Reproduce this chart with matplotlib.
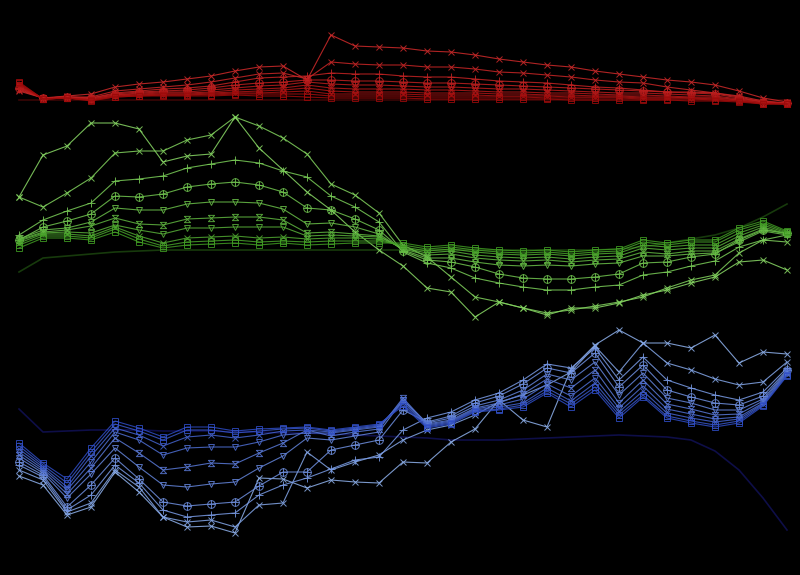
import numpy as np
import matplotlib
matplotlib.use("Agg")
import matplotlib.pyplot as plt
from matplotlib.path import Path
from matplotlib.colors import to_rgb

# x positions: 33 samples
steps = np.arange(33)

# ---- red group (values on an inverted vertical scale) ----
red_base = [100] * 33
red_series = [
    [91, 98, 96, 94, 87, 84, 82, 79, 76, 71, 67, 66, 80,
     35, 46, 47, 48, 51, 52, 55, 59, 62, 65, 67, 71, 74, 77, 80, 82, 85, 91, 98, 102],
    [90, 98, 97, 97, 91, 89, 87, 85, 82, 78, 74, 73, 79,
     62, 64, 65, 65, 67, 67, 69, 72, 73, 75, 77, 80, 82, 83, 87, 90, 93, 96, 101, 103],
    [89, 98, 97, 98, 93, 91, 89, 88, 86, 82, 78, 77, 76,
     73, 74, 74, 76, 77, 77, 79, 81, 82, 83, 85, 87, 88, 90, 92, 92, 93, 97, 102, 103],
    [88, 98, 97, 98, 94, 92, 91, 90, 88, 85, 83, 82, 80,
     80, 81, 81, 82, 83, 83, 84, 85, 86, 87, 88, 89, 90, 91, 92, 93, 94, 98, 102, 103],
    [87, 98, 97, 99, 95, 93, 92, 92, 90, 88, 86, 85, 82,
     84, 85, 85, 86, 87, 87, 88, 89, 89, 90, 91, 92, 93, 93, 94, 95, 96, 99, 102, 103],
    [86, 99, 98, 99, 95, 94, 93, 93, 92, 90, 89, 88, 85,
     88, 89, 89, 89, 90, 90, 91, 92, 92, 93, 93, 94, 95, 95, 96, 97, 97, 100, 103, 103],
    [85, 99, 98, 100, 96, 95, 94, 94, 93, 92, 91, 90, 88,
     91, 92, 92, 92, 93, 93, 93, 94, 94, 95, 95, 96, 96, 97, 97, 98, 98, 100, 103, 104],
    [84, 99, 98, 100, 96, 95, 95, 95, 94, 93, 93, 92, 91,
     94, 94, 94, 94, 95, 95, 95, 96, 96, 96, 97, 97, 97, 98, 98, 98, 99, 101, 103, 104],
    [83, 99, 98, 100, 97, 96, 95, 95, 95, 94, 94, 94, 94,
     96, 96, 96, 96, 97, 97, 97, 97, 97, 98, 98, 98, 98, 99, 99, 99, 100, 101, 104, 104],
    [82, 99, 98, 101, 97, 96, 96, 96, 96, 95, 96, 96, 97,
     98, 98, 98, 98, 99, 99, 99, 99, 99, 99, 100, 100, 100, 100, 100, 101, 101, 102, 104, 104],
]

# ---- green group ----
green_base = [272, 258, 256, 254, 252, 251, 250, 250, 250, 250, 250, 250, 250, 250, 250, 250,
              250, 250, 250, 250, 250, 250, 250, 250, 250, 249, 247, 243, 239, 235, 228, 217, 204]
green_series = [
    [197, 155, 146, 123, 123, 129, 162, 156, 154, 117, 148, 170, 192, 210, 232, 250,
     266, 288, 292, 317, 302, 308, 315, 308, 308, 303, 295, 290, 283, 277, 262, 260, 270],
    [197, 207, 193, 178, 153, 151, 151, 140, 135, 117, 126, 138, 154, 184, 195, 213,
     245, 257, 277, 297, 302, 308, 313, 310, 306, 302, 297, 288, 280, 275, 253, 240, 242],
    [235, 220, 211, 203, 181, 179, 176, 168, 164, 160, 163, 171, 177, 196, 207, 222,
     252, 263, 268, 278, 283, 287, 290, 290, 287, 285, 275, 272, 266, 261, 247, 240, 235],
    [240, 227, 221, 214, 196, 197, 194, 187, 184, 182, 185, 192, 208, 210, 219, 230,
     251, 260, 262, 267, 274, 278, 279, 279, 277, 274, 263, 262, 257, 254, 240, 230, 233],
    [239, 230, 228, 222, 208, 210, 210, 204, 202, 202, 203, 209, 224, 223, 227, 234,
     250, 258, 258, 262, 265, 266, 265, 266, 264, 263, 256, 256, 254, 253, 242, 231, 235],
    [240, 232, 230, 226, 218, 224, 225, 219, 218, 217, 217, 220, 233, 232, 234, 236,
     249, 255, 254, 258, 260, 261, 260, 262, 260, 259, 252, 254, 251, 251, 239, 229, 234],
    [241, 233, 232, 233, 225, 230, 234, 228, 228, 227, 227, 227, 236, 235, 236, 237,
     248, 253, 251, 255, 257, 258, 257, 259, 257, 256, 248, 250, 248, 248, 236, 227, 234],
    [243, 234, 234, 236, 227, 236, 243, 238, 237, 236, 238, 237, 239, 238, 238, 239,
     247, 251, 249, 252, 254, 255, 254, 256, 254, 253, 245, 247, 245, 245, 233, 225, 233],
    [245, 236, 236, 238, 229, 239, 246, 242, 241, 240, 242, 241, 242, 241, 241, 241,
     245, 249, 247, 250, 252, 253, 252, 254, 252, 251, 242, 245, 242, 242, 230, 223, 232],
    [248, 238, 238, 240, 232, 242, 248, 245, 244, 243, 245, 243, 245, 244, 243, 243,
     243, 247, 245, 248, 250, 251, 250, 252, 250, 249, 240, 243, 240, 240, 228, 221, 231],
]

# ---- blue group ----
blue_base = [409, 432, 431, 430, 430, 430, 431, 431, 431, 432, 432, 433, 433, 434, 435, 436,
             437, 438, 440, 440, 440, 439, 438, 437, 436, 435, 436, 437, 440, 451, 470, 498, 530]
blue_series = [
    [476, 485, 515, 507, 472, 492, 517, 527, 526, 533, 478, 479, 488, 480, 482, 483,
     462, 463, 442, 429, 400, 420, 427, 369, 345, 330, 343, 343, 348, 335, 363, 352, 354],
    [470, 480, 512, 503, 470, 487, 517, 522, 520, 527, 505, 503, 452, 470, 462, 455,
     440, 430, 425, 415, 402, 395, 385, 372, 346, 372, 343, 363, 370, 379, 385, 382, 362],
    [465, 477, 510, 495, 465, 483, 510, 517, 515, 513, 495, 485, 478, 469, 460, 457,
     430, 418, 412, 400, 393, 380, 364, 368, 348, 380, 357, 380, 388, 395, 400, 392, 368],
    [462, 475, 507, 485, 458, 479, 502, 506, 504, 502, 486, 472, 472, 450, 445, 440,
     410, 422, 416, 403, 396, 384, 368, 373, 353, 387, 365, 390, 397, 403, 405, 396, 370],
    [458, 473, 498, 474, 448, 467, 485, 487, 484, 482, 468, 456, 438, 440, 436, 432,
     400, 423, 418, 406, 400, 390, 374, 380, 362, 395, 373, 398, 403, 410, 410, 399, 371],
    [455, 471, 494, 468, 438, 453, 470, 467, 463, 464, 453, 443, 430, 436, 432, 429,
     398, 424, 420, 408, 403, 394, 379, 388, 370, 403, 380, 404, 409, 415, 414, 401, 372],
    [452, 469, 490, 462, 432, 440, 455, 448, 447, 447, 442, 435, 433, 433, 430, 427,
     400, 425, 421, 409, 405, 399, 384, 396, 378, 408, 386, 409, 414, 419, 417, 403, 373],
    [449, 467, 487, 456, 428, 435, 446, 437, 435, 438, 435, 431, 430, 432, 429, 426,
     402, 426, 422, 410, 407, 403, 388, 401, 383, 412, 391, 413, 418, 422, 419, 404, 374],
    [446, 465, 483, 452, 424, 431, 440, 430, 430, 433, 431, 429, 428, 431, 428, 425,
     404, 427, 423, 411, 409, 405, 391, 404, 387, 415, 395, 416, 421, 425, 421, 405, 375],
    [443, 463, 479, 448, 421, 428, 437, 427, 427, 431, 429, 428, 427, 430, 427, 424,
     406, 428, 424, 412, 410, 407, 393, 407, 390, 418, 397, 418, 423, 427, 423, 406, 376],
]

# marker shapes, outermost series first
oplus = Path.make_compound_path(
    Path.unit_circle(),
    Path([(-1, 0), (1, 0)], [Path.MOVETO, Path.LINETO]),
    Path([(0, -1), (0, 1)], [Path.MOVETO, Path.LINETO]))
hourglass = Path([(-1, 1), (1, 1), (-1, -1), (1, -1), (-1, 1)],
                 [Path.MOVETO, Path.LINETO, Path.LINETO, Path.LINETO, Path.LINETO])
markers = ['x', 'x', '+', oplus, 'v', hourglass, 'v', 'x', 's', 's']
msizes = [4.5, 4.5, 5.5, 5.5, 5, 4.5, 4, 4, 5, 5]


def blend(c1, c2, n):
    a = np.array(to_rgb(c1))
    b = np.array(to_rgb(c2))
    return [tuple(a + (b - a) * t) for t in np.linspace(0, 1, n)]


groups = [
    (red_series, red_base, '#cf2a2a', '#9c0a0a', '#3a0606'),
    (green_series, green_base, '#8ada66', '#3f9a22', '#173a0c'),
    (blue_series, blue_base, '#8fb2ee', '#2e4cc4', '#0e0e48'),
]

fig = plt.figure(figsize=(8, 5.75), dpi=100)
fig.patch.set_facecolor('black')
ax = fig.add_axes([0, 0, 1, 1])
ax.set_facecolor('black')

for series, base, c_out, c_in, c_base in groups:
    ax.plot(steps, base, color=c_base, linewidth=1.2, zorder=1)
    cols = blend(c_out, c_in, len(series))
    for k, vals in enumerate(series):
        ax.plot(steps, vals, color=cols[k], linewidth=0.8, alpha=0.85,
                marker=markers[k], markersize=msizes[k], markerfacecolor='none',
                markeredgecolor=cols[k], markeredgewidth=0.7, zorder=2 + k)

ax.set_xlim(-19 / 24, 32 + 13 / 24)
ax.set_ylim(575, 0)
ax.axis('off')

plt.savefig('out.png', dpi=100, facecolor='black')
